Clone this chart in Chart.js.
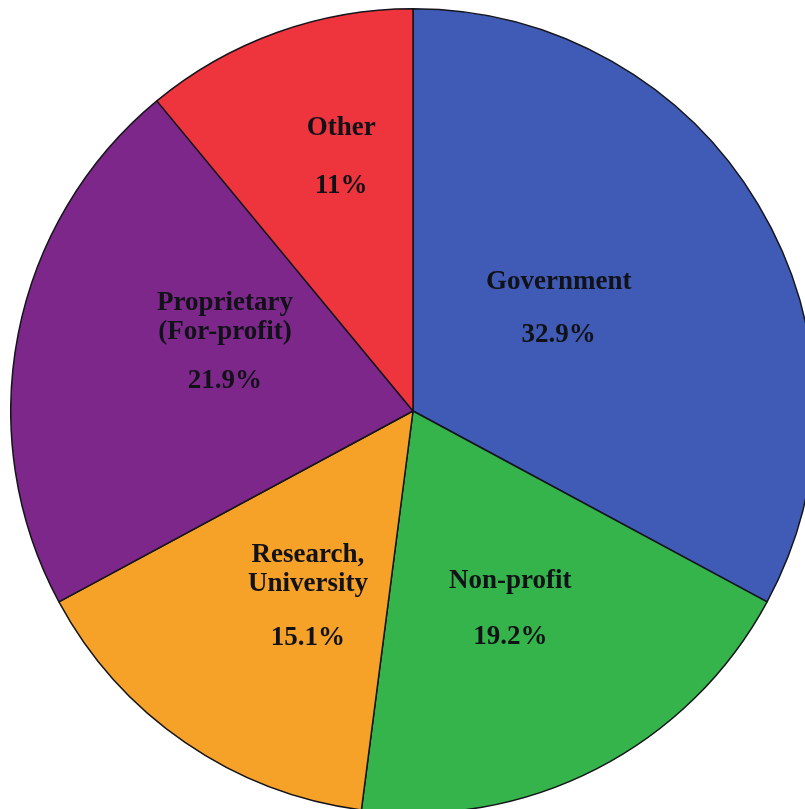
<!DOCTYPE html>
<html>
<head>
<meta charset="utf-8">
<title>Sponsorship share</title>
<script src="https://cdn.jsdelivr.net/npm/chart.js@4.4.1/dist/chart.umd.min.js"></script>
<style>
  html, body { margin: 0; padding: 0; background: #ffffff; width: 805px; height: 809px; overflow: hidden; position: relative; }
  #wrap { position: absolute; left: 10px; top: 8px; width: 806px; height: 806px; }
</style>
</head>
<body>
<div id="wrap"><canvas id="pie" width="806" height="806"></canvas></div>
<script>
// Categories, clockwise from 12 o'clock
const categories = [
  ['Government'],
  ['Non-profit'],
  ['Research,', 'University'],
  ['Proprietary', '(For-profit)'],
  ['Other']
];
const shares = [32.9, 19.2, 15.1, 21.9, 11];
const shareLabels = ['32.9%', '19.2%', '15.1%', '21.9%', '11%'];
const sliceColors = ['#3f5bb5', '#34b44b', '#f6a128', '#7d278b', '#ee343c'];

// Label placement: distance from the centre as a fraction of the radius,
// a small turn (degrees) away from each slice's mid-angle, and the gap
// between the name and the percentage beneath it.
const labelRadius = [0.445, 0.545, 0.525, 0.5, 0.66];
const labelTurn = [-4.7, 0.8, -4.7, 9.7, 4.1];
const pctGap = [53, 56, 54, 49, 58];

const sliceLabels = {
  id: 'sliceLabels',
  afterDatasetsDraw(chart) {
    const ctx = chart.ctx;
    const meta = chart.getDatasetMeta(0);
    ctx.save();
    ctx.font = 'bold 27px "Liberation Serif", "Times New Roman", serif';
    ctx.fillStyle = '#111118';
    ctx.textAlign = 'center';
    ctx.textBaseline = 'middle';
    meta.data.forEach((arc, i) => {
      const p = arc.getProps(['x', 'y', 'startAngle', 'endAngle', 'outerRadius'], true);
      const mid = (p.startAngle + p.endAngle) / 2 + labelTurn[i] * Math.PI / 180;
      const r = p.outerRadius * labelRadius[i];
      const cx = p.x + Math.cos(mid) * r;
      const cy = p.y + Math.sin(mid) * r + 2;
      const lines = categories[i];
      const lineGap = 29;
      const blockH = (lines.length - 1) * lineGap + pctGap[i];
      const y = cy - blockH / 2;
      lines.forEach((t, k) => ctx.fillText(t, cx, y + k * lineGap));
      ctx.fillText(shareLabels[i], cx, y + (lines.length - 1) * lineGap + pctGap[i]);
    });
    ctx.restore();
  }
};

new Chart(document.getElementById('pie'), {
  type: 'pie',
  data: {
    labels: categories.map(c => c.join(' ')),
    datasets: [{
      data: shares,
      backgroundColor: sliceColors,
      borderColor: '#15151c',
      borderWidth: 1.5
    }]
  },
  options: {
    responsive: false,
    animation: false,
    layout: { padding: 0 },
    plugins: {
      legend: { display: false },
      tooltip: { enabled: false }
    }
  },
  plugins: [sliceLabels]
});
</script>
</body>
</html>
